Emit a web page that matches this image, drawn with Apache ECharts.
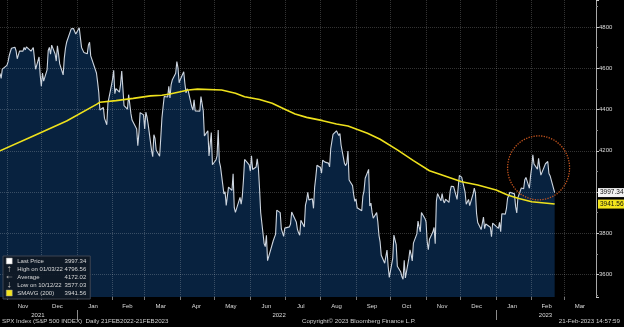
<!DOCTYPE html>
<html><head><meta charset="utf-8">
<script src="https://cdn.jsdelivr.net/npm/echarts@6/dist/echarts.min.js"></script>
<style>html,body{margin:0;padding:0;background:#000;}#c{width:624px;height:327px;}</style>
</head><body><div id="c"></div>
<script>
const axisStart = '2021-10-26', axisEnd = '2023-03-29';
const monthNames = ['Jan','Feb','Mar','Apr','May','Jun','Jul','Aug','Sep','Oct','Nov','Dec'];
const yearLabelDates = ['2021-11-28','2022-06-26','2023-02-13'];

const priceDates = ['2021-10-26','2021-10-27','2021-10-28','2021-10-29','2021-11-01','2021-11-02','2021-11-03','2021-11-04','2021-11-05','2021-11-08','2021-11-09','2021-11-10','2021-11-11','2021-11-12','2021-11-15','2021-11-16','2021-11-17','2021-11-18','2021-11-19','2021-11-22','2021-11-23','2021-11-24','2021-11-26','2021-11-29','2021-11-30','2021-12-01','2021-12-02','2021-12-03','2021-12-06','2021-12-07','2021-12-08','2021-12-09','2021-12-10','2021-12-13','2021-12-14','2021-12-15','2021-12-16','2021-12-17','2021-12-20','2021-12-21','2021-12-22','2021-12-23','2021-12-27','2021-12-28','2021-12-29','2021-12-30','2021-12-31',
'2022-01-03','2022-01-04','2022-01-05','2022-01-06','2022-01-07','2022-01-10','2022-01-11','2022-01-12','2022-01-13','2022-01-14','2022-01-18','2022-01-19','2022-01-20','2022-01-21','2022-01-24','2022-01-25','2022-01-26','2022-01-27','2022-01-28','2022-01-31','2022-02-01','2022-02-02','2022-02-03','2022-02-04','2022-02-07','2022-02-08','2022-02-09','2022-02-10','2022-02-11','2022-02-14','2022-02-15','2022-02-16','2022-02-17','2022-02-18','2022-02-22','2022-02-23','2022-02-24','2022-02-25','2022-02-28','2022-03-01','2022-03-02','2022-03-03','2022-03-04','2022-03-07','2022-03-08','2022-03-09','2022-03-10','2022-03-11','2022-03-14','2022-03-15','2022-03-16','2022-03-17','2022-03-18','2022-03-21','2022-03-22','2022-03-23','2022-03-24','2022-03-25','2022-03-28','2022-03-29','2022-03-30','2022-03-31','2022-04-01','2022-04-04','2022-04-05','2022-04-06','2022-04-07','2022-04-08','2022-04-11','2022-04-12','2022-04-13','2022-04-14','2022-04-18','2022-04-19','2022-04-20','2022-04-21','2022-04-22','2022-04-25','2022-04-26','2022-04-27','2022-04-28','2022-04-29','2022-05-02','2022-05-03','2022-05-04','2022-05-05','2022-05-06','2022-05-09','2022-05-10','2022-05-11','2022-05-12','2022-05-13','2022-05-16','2022-05-17','2022-05-18','2022-05-19','2022-05-20','2022-05-23','2022-05-24','2022-05-25','2022-05-26','2022-05-27','2022-05-31','2022-06-01','2022-06-02','2022-06-03','2022-06-06','2022-06-07','2022-06-08','2022-06-09','2022-06-10','2022-06-13','2022-06-14','2022-06-15','2022-06-16','2022-06-17','2022-06-21','2022-06-22','2022-06-23','2022-06-24','2022-06-27','2022-06-28','2022-06-29','2022-06-30','2022-07-01','2022-07-05','2022-07-06','2022-07-07','2022-07-08','2022-07-11','2022-07-12','2022-07-13','2022-07-14','2022-07-15','2022-07-18','2022-07-19','2022-07-20','2022-07-21','2022-07-22','2022-07-25','2022-07-26','2022-07-27','2022-07-28','2022-07-29','2022-08-01','2022-08-02','2022-08-03','2022-08-04','2022-08-05','2022-08-08','2022-08-09','2022-08-10','2022-08-11','2022-08-12','2022-08-15','2022-08-16','2022-08-17','2022-08-18','2022-08-19','2022-08-22','2022-08-23','2022-08-24','2022-08-25','2022-08-26','2022-08-29','2022-08-30','2022-08-31','2022-09-01','2022-09-02','2022-09-06','2022-09-07','2022-09-08','2022-09-09','2022-09-12','2022-09-13','2022-09-14','2022-09-15','2022-09-16','2022-09-19','2022-09-20','2022-09-21','2022-09-22','2022-09-23','2022-09-26','2022-09-27','2022-09-28','2022-09-29','2022-09-30','2022-10-03','2022-10-04','2022-10-05','2022-10-06','2022-10-07','2022-10-10','2022-10-11','2022-10-12','2022-10-13','2022-10-14','2022-10-17','2022-10-18','2022-10-19','2022-10-20','2022-10-21','2022-10-24','2022-10-25','2022-10-26','2022-10-27','2022-10-28','2022-10-31','2022-11-01','2022-11-02','2022-11-03','2022-11-04','2022-11-07','2022-11-08','2022-11-09','2022-11-10','2022-11-11','2022-11-14','2022-11-15','2022-11-16','2022-11-17','2022-11-18','2022-11-21','2022-11-22','2022-11-23','2022-11-25','2022-11-28','2022-11-29','2022-11-30','2022-12-01','2022-12-02','2022-12-05','2022-12-06','2022-12-07','2022-12-08','2022-12-09','2022-12-12','2022-12-13','2022-12-14','2022-12-15','2022-12-16','2022-12-19','2022-12-20','2022-12-21','2022-12-22','2022-12-23','2022-12-27','2022-12-28','2022-12-29','2022-12-30',
'2023-01-03','2023-01-04','2023-01-05','2023-01-06','2023-01-09','2023-01-10','2023-01-11','2023-01-12','2023-01-13','2023-01-17','2023-01-18','2023-01-19','2023-01-20','2023-01-23','2023-01-24','2023-01-25','2023-01-26','2023-01-27','2023-01-30','2023-01-31','2023-02-01','2023-02-02','2023-02-03','2023-02-06','2023-02-07','2023-02-08','2023-02-09','2023-02-10','2023-02-13','2023-02-14','2023-02-15','2023-02-16','2023-02-17','2023-02-21'];

const priceValues = [4575,4551,4596,4605,4614,4631,4660,4680,4697,4702,4685,4646,4649,4683,4683,4701,4689,4704,4698,4683,4691,4701,4595,4655,4567,4513,4577,4538,4592,4686,4701,4668,4712,4669,4635,4709,4669,4621,4568,4649,4697,4726,4791,4786,4793,4778,4766,
4796.56,4794,4701,4696,4677,4670,4713,4726,4660,4663,4577,4533,4483,4398,4410,4357,4350,4326,4432,4516,4546,4590,4477,4501,4484,4522,4587,4504,4419,4402,4472,4475,4380,4349,4305,4225,4288,4385,4374,4306,4387,4364,4329,4201,4171,4278,4260,4204,4173,4262,4358,4412,4463,4461,4512,4456,4520,4543,4576,4632,4602,4530,4546,4583,4526,4481,4501,4488,4413,4397,4447,4393,4392,4463,4459,4394,4272,4297,4175,4183,4288,4132,4155,4175,4300,4147,4123,3991,4001,3935,3930,4024,4008,4088,3924,3901,3901,3974,3941,3979,4058,4158,4132,4101,4176,4109,4121,4161,4116,4018,3901,3750,3735,3790,3667,3675,3765,3760,3796,3912,3900,3821,3819,3785,3825,3831,3845,3903,3899,3855,3819,3802,3790,3863,3831,3937,3960,3999,3962,3967,3921,4024,4072,4130,4119,4091,4155,4152,4145,4140,4122,4210,4207,4280,4297,4305,4274,4284,4228,4138,4128,4141,4199,4058,4031,3986,3955,3966,3924,3909,3980,4006,4067,4110,3932,3946,3901,3873,3900,3856,3790,3758,3693,3655,3647,3719,3640,3586,3678,3791,3783,3745,3640,3612,3589,3577.03,3669,3583,3677,3720,3696,3666,3752,3797,3859,3831,3807,3901,3872,3856,3760,3720,3771,3807,3828,3749,3956,3993,3957,3992,3959,3947,3965,3950,4004,4028,4026,3964,3958,4080,4077,4072,3999,3941,3933,3964,3934,3991,4019,3996,3896,3852,3818,3821,3879,3822,3845,3829,3783,3849,3840,
3824,3853,3808,3895,3893,3919,3970,3983,3999,3991,3929,3899,3973,4020,4017,4016,4060,4071,4018,4077,4119,4180,4136,4111,4164,4118,4082,4090,4137,4136,4148,4090,4079,3997.34];

const smaDates = ['2021-10-26','2021-11-24','2021-12-23','2022-01-18','2022-01-21','2022-02-04','2022-02-19','2022-03-06','2022-03-16','2022-03-23','2022-04-08','2022-04-16','2022-05-07','2022-05-19','2022-05-27','2022-06-09','2022-06-20','2022-07-01','2022-07-10','2022-07-20','2022-08-03','2022-08-15','2022-08-25','2022-09-11','2022-09-22','2022-10-07','2022-10-21','2022-11-04','2022-11-13','2022-12-02','2022-12-16','2023-01-01','2023-01-11','2023-01-20','2023-02-01','2023-02-21'];
const smaValues = [4200,4272,4344,4425,4435,4443,4454,4466,4469,4475,4495,4499,4495,4479,4462,4449,4430,4401,4378,4362,4346,4330,4320,4285,4256,4204,4152,4103,4086,4050,4034,4010,3986,3970,3953,3941.56];

const legendNames = ['Last Price','High on 01/03/22','Average','Low on 10/12/22','SMAVG (200)'];
const legendValues = ['3997.34','4796.56','4172.02','3577.03','3941.56'];
const circleMark = ['2023-02-07', 4117];

const footerLeft = 'SPX Index (S&P 500 INDEX)  Daily 21FEB2022-21FEB2023';
const footerMid = 'Copyright\u00A9 2023 Bloomberg Finance L.P.';
const footerRight = '21-Feb-2023 14:57:59';

const FONT = '"Liberation Sans", Arial, sans-serif';

function iso(t){ return new Date(t).toISOString().slice(0,10); }
const days = [];
for (let t = Date.parse(axisStart+'T00:00:00Z'); t <= Date.parse(axisEnd+'T00:00:00Z'); t += 86400000) days.push(iso(t));
const isMonthStart = s => s.slice(8) === '01';
const isYearStart = s => s.slice(5) === '01-01';
function isMidMonth(s){
  const y = +s.slice(0,4), m = +s.slice(5,7);
  const dim = new Date(Date.UTC(y, m, 0)).getUTCDate();
  return +s.slice(8) === Math.floor(dim/2);
}
const priceData = priceDates.map((d,i)=>[d, priceValues[i]]);
const smaData = smaDates.map((d,i)=>[d, smaValues[i]]);

const gridColor = 'rgba(255,255,255,0.2)';
const footStyle = size => ({fontSize: size, color: '#d0d0d0', fontWeight: 'normal', fontFamily: FONT});
const chart = echarts.init(document.getElementById('c'), null, {renderer:'canvas'});
chart.setOption({
  animation: false,
  backgroundColor: '#000',
  textStyle: {fontFamily: FONT},
  grid: {left: 0, right: 28, top: 0, bottom: 30, containLabel: false, outerBoundsMode: 'none'},
  title: [
    {text: footerLeft, left: 2, top: 318, padding: 0, textStyle: footStyle(6.2)},
    {text: footerMid, left: 302, top: 318, padding: 0, textStyle: footStyle(6.2)},
    {text: footerRight, right: 4, top: 318, padding: 0, textStyle: footStyle(6.2)}
  ],
  legend: {
    orient: 'vertical', left: 3, top: 256, padding: [1,4,2,3], itemGap: 0, itemWidth: 6, itemHeight: 6,
    backgroundColor: 'rgba(16,24,36,0.9)', borderColor: '#3c4452', borderWidth: 1, selectedMode: false,
    textStyle: {color: '#d8d8d8', fontSize: 6, fontFamily: FONT, lineHeight: 8,
      rich: {n: {width: 47, fontSize: 6, lineHeight: 8, color: '#d8d8d8', fontFamily: FONT},
             v: {width: 22, align: 'right', fontSize: 6, lineHeight: 8, color: '#d8d8d8', fontFamily: FONT}}},
    formatter: name => '{n|' + name + '}{v|' + legendValues[legendNames.indexOf(name)] + '}',
    data: [
      {name: legendNames[0], icon: 'rect', itemStyle: {color: '#ffffff', borderColor: '#999', borderWidth: 0.5}},
      {name: legendNames[1], icon: 'path://M5,0 L8,4 L5.6,4 L5.6,12 L4.4,12 L4.4,4 L2,4 Z', itemStyle: {color: '#9a9a9a'}},
      {name: legendNames[2], icon: 'path://M0,5 L4,2 L4,4.4 L12,4.4 L12,5.6 L4,5.6 L4,8 Z', itemStyle: {color: '#9a9a9a'}},
      {name: legendNames[3], icon: 'path://M5,12 L8,8 L5.6,8 L5.6,0 L4.4,0 L4.4,8 L2,8 Z', itemStyle: {color: '#9a9a9a'}},
      {name: legendNames[4], icon: 'rect', itemStyle: {color: '#f2e41c', borderColor: '#999', borderWidth: 0.5}}
    ]
  },
  xAxis: [
    {type: 'category', data: days, boundaryGap: false, z: 2,
     axisLine: {show: false},
     axisTick: {show: true, interval: (i, v) => isMonthStart(v), length: 3, lineStyle: {color: '#777'}},
     splitLine: {show: true, interval: (i, v) => isMonthStart(v), lineStyle: {color: gridColor, type: 'dotted', width: 1}},
     axisLabel: {show: true, interval: (i, v) => isMidMonth(v), formatter: v => monthNames[+v.slice(5,7)-1],
       color: '#dcdcdc', fontSize: 6, margin: 6, fontFamily: FONT, hideOverlap: false}},
    {type: 'category', data: days, boundaryGap: false, position: 'bottom', offset: 13, z: 2,
     axisLine: {show: false},
     axisTick: {show: true, interval: (i, v) => isYearStart(v), length: 10, lineStyle: {color: '#8a8a8a'}},
     splitLine: {show: false},
     axisLabel: {show: true, interval: (i, v) => yearLabelDates.indexOf(v) >= 0, formatter: v => v.slice(0,4),
       color: '#dcdcdc', fontSize: 6, margin: 2, fontFamily: FONT, hideOverlap: false}}
  ],
  yAxis: {
    type: 'value', position: 'right', min: 3491, max: 4931, splitNumber: 7, minInterval: 200, maxInterval: 200, z: 2,
    axisLine: {show: true, lineStyle: {color: '#a8a8a8', width: 1}},
    axisTick: {show: true, length: 3, lineStyle: {color: '#c8c8c8'}},
    minorTick: {show: true, splitNumber: 2, length: 2, lineStyle: {color: '#8a8a8a'}},
    axisLabel: {show: true, color: '#dcdcdc', fontSize: 6, margin: 3, fontFamily: FONT, showMinLabel: false, showMaxLabel: false,
      formatter: v => String(Math.round(v))},
    splitLine: {show: true, showMinLine: false, showMaxLine: false, lineStyle: {color: gridColor, type: 'dotted', width: 1}}
  },
  series: [
    {name: legendNames[0], type: 'line', data: priceData, showSymbol: false, symbol: 'none', silent: true, z: 1,
     lineStyle: {width: 0, opacity: 0}, areaStyle: {color: '#08223f', opacity: 1, origin: 'start'}},
    {name: legendNames[0], type: 'line', data: priceData, showSymbol: false, symbol: 'none', silent: true, z: 3,
     lineStyle: {width: 1.1, color: '#cdd5df'}, itemStyle: {color: '#ffffff'},
     markLine: {silent: true, symbol: ['none','none'], lineStyle: {color: 'rgba(0,0,0,0)', width: 0},
       label: {show: true, position: 'end', distance: 2, formatter: p => Number(p.value).toFixed(2),
         backgroundColor: '#f2f2f2', color: '#111', fontSize: 6.5, padding: [1,2,1,2], fontFamily: FONT},
       data: [{yAxis: priceValues[priceValues.length-1]}]},
     markPoint: {silent: true, symbol: 'circle', symbolSize: [62, 64], label: {show: false},
       itemStyle: {color: 'rgba(0,0,0,0)', borderColor: '#c2531d', borderWidth: 1.3, borderType: 'dotted'},
       data: [{coord: circleMark}]}},
    {name: legendNames[1], type: 'line', data: [], itemStyle: {color: '#9a9a9a'}},
    {name: legendNames[2], type: 'line', data: [], itemStyle: {color: '#9a9a9a'}},
    {name: legendNames[3], type: 'line', data: [], itemStyle: {color: '#9a9a9a'}},
    {name: legendNames[4], type: 'line', data: smaData, showSymbol: false, symbol: 'none', silent: true, z: 4,
     lineStyle: {width: 1.6, color: '#eee11c'}, itemStyle: {color: '#eee11c'},
     markLine: {silent: true, symbol: ['none','none'], lineStyle: {color: 'rgba(0,0,0,0)', width: 0},
       label: {show: true, position: 'end', distance: 2, formatter: p => Number(p.value).toFixed(2),
         backgroundColor: '#f2e41c', color: '#111', fontSize: 6.5, padding: [1,2,1,2], fontFamily: FONT},
       data: [{yAxis: smaValues[smaValues.length-1]}]}}
  ]
});
</script></body></html>
